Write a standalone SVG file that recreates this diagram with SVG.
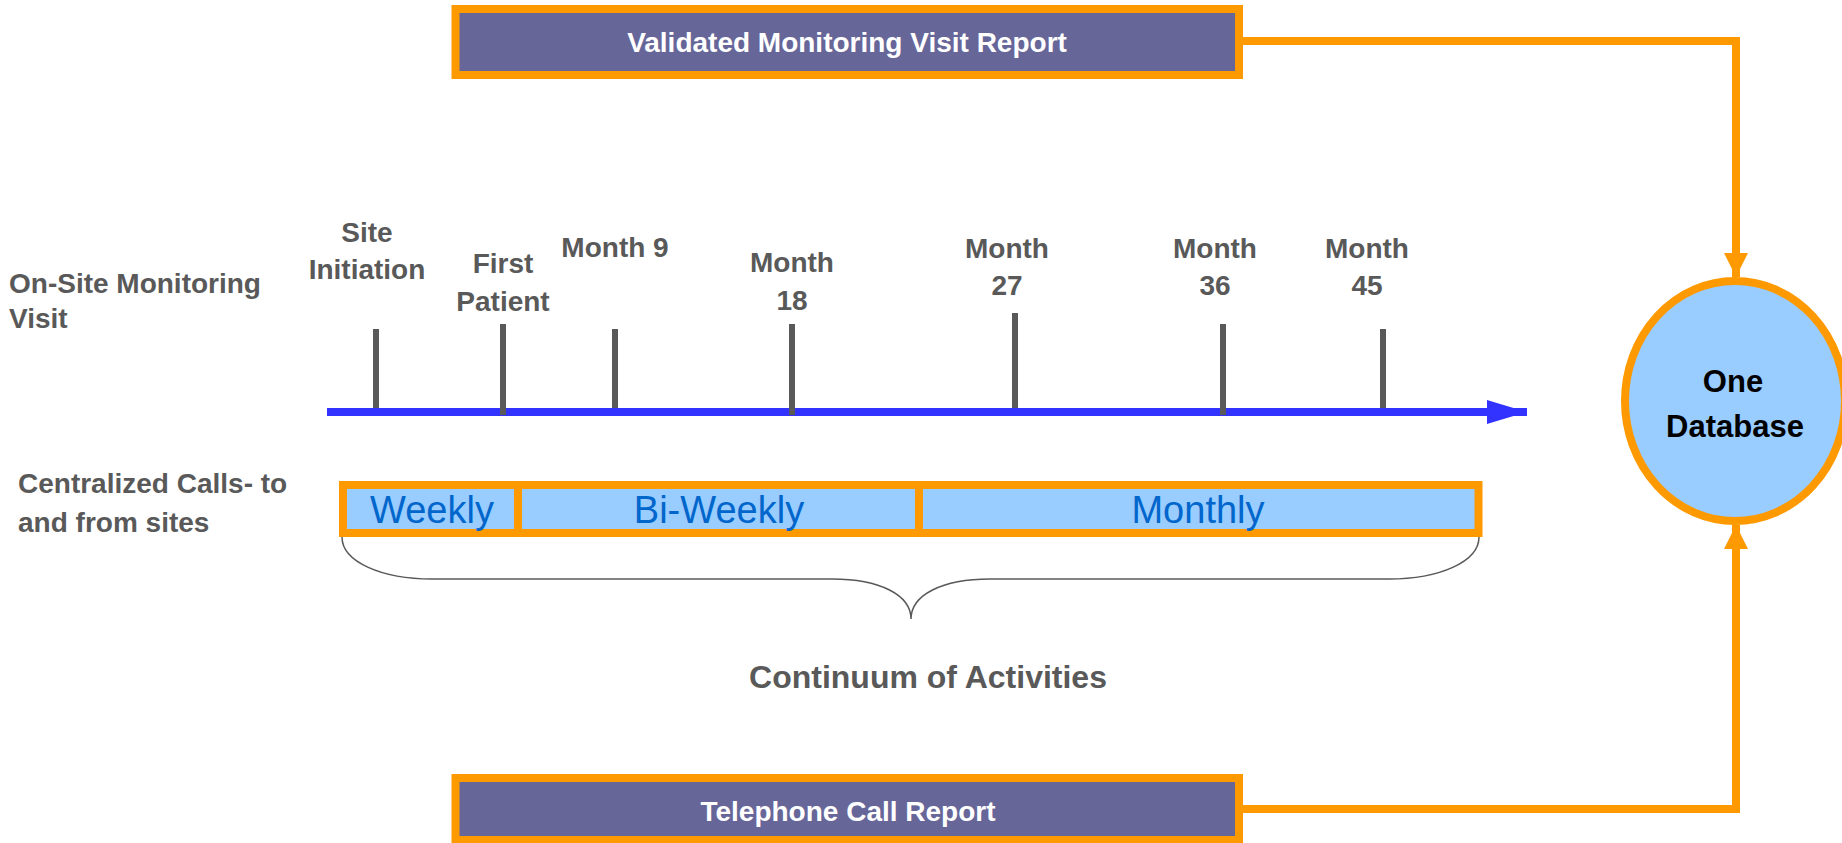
<svg xmlns="http://www.w3.org/2000/svg" width="1842" height="843" viewBox="0 0 1842 843">
  <style>
    .label { font-family: "Liberation Sans", Arial, sans-serif; font-weight: bold; font-size: 28px; fill: #595959; }
    .mid { text-anchor: middle; }
    .report-box { fill: #666699; stroke: #FF9900; stroke-width: 8; }
    .report-text { font-family: "Liberation Sans", Arial, sans-serif; font-weight: bold; font-size: 28px; fill: #FFFFFF; text-anchor: middle; }
    .freq-box { fill: #99CCFF; stroke: #FF9900; stroke-width: 8; }
    .freq-text { font-family: "Liberation Sans", Arial, sans-serif; font-size: 38px; fill: #0066CC; text-anchor: middle; }
    .tick { stroke: #595959; stroke-width: 6; }
    .feed { fill: none; stroke: #FF9900; stroke-width: 8; }
  </style>
  <defs>
    <marker id="orangeHead" markerUnits="userSpaceOnUse" markerWidth="24" markerHeight="24" viewBox="0 0 24 24" refX="24" refY="12" orient="auto">
      <path d="M0,0 L24,12 L0,24 Z" fill="#FF9900"/>
    </marker>
    <marker id="blueHead" markerUnits="userSpaceOnUse" markerWidth="40" markerHeight="24" viewBox="0 0 40 24" refX="40" refY="12" orient="auto">
      <path d="M0,0 L40,12 L0,24 Z" fill="#3333FF"/>
    </marker>
  </defs>

  <rect width="1842" height="843" fill="#FFFFFF"/>

  <!-- connectors feeding the database -->
  <g id="connectors">
    <path class="feed" d="M1243,41 L1736,41 L1736,277" marker-end="url(#orangeHead)"/>
    <path class="feed" d="M1243,809 L1736,809 L1736,525" marker-end="url(#orangeHead)"/>
  </g>

  <g id="validated-report">
    <rect class="report-box" x="455.5" y="9" width="783.5" height="66"/>
    <text class="report-text" x="847" y="52">Validated Monitoring Visit Report</text>
  </g>

  <g id="telephone-report">
    <rect class="report-box" x="455.5" y="778" width="783.5" height="62"/>
    <text class="report-text" x="848" y="821">Telephone Call Report</text>
  </g>

  <g id="database">
    <ellipse cx="1735" cy="401" rx="110" ry="120" fill="#99CCFF" stroke="#FF9900" stroke-width="8"/>
    <text class="label mid" x="1733" y="392" style="fill:#000000;font-size:31px">One</text>
    <text class="label mid" x="1735" y="437" style="fill:#000000;font-size:31px">Database</text>
  </g>

  <!-- row labels -->
  <g id="row-onsite">
    <text class="label" x="9" y="293">On-Site Monitoring</text>
    <text class="label" x="9" y="328">Visit</text>
  </g>
  <g id="row-calls">
    <text class="label" x="18" y="493">Centralized Calls- to</text>
    <text class="label" x="18" y="532">and from sites</text>
  </g>

  <!-- timeline with visit ticks -->
  <g id="timeline">
    <line x1="327" y1="412" x2="1527" y2="412" stroke="#3333FF" stroke-width="8" marker-end="url(#blueHead)"/>
    <line class="tick" x1="376" y1="329" x2="376" y2="408"/>
    <line class="tick" x1="503" y1="324" x2="503" y2="415"/>
    <line class="tick" x1="615" y1="329" x2="615" y2="408"/>
    <line class="tick" x1="792" y1="324" x2="792" y2="415"/>
    <line class="tick" x1="1015" y1="313" x2="1015" y2="408"/>
    <line class="tick" x1="1223" y1="324" x2="1223" y2="415"/>
    <line class="tick" x1="1383" y1="329" x2="1383" y2="408"/>
  </g>

  <g id="visit-site-initiation">
    <text class="label mid" x="367" y="242">Site</text>
    <text class="label mid" x="367" y="279">Initiation</text>
  </g>
  <g id="visit-first-patient">
    <text class="label mid" x="503" y="273">First</text>
    <text class="label mid" x="503" y="311">Patient</text>
  </g>
  <g id="visit-month-9">
    <text class="label mid" x="615" y="257">Month 9</text>
  </g>
  <g id="visit-month-18">
    <text class="label mid" x="792" y="272">Month</text>
    <text class="label mid" x="792" y="310">18</text>
  </g>
  <g id="visit-month-27">
    <text class="label mid" x="1007" y="258">Month</text>
    <text class="label mid" x="1007" y="295">27</text>
  </g>
  <g id="visit-month-36">
    <text class="label mid" x="1215" y="258">Month</text>
    <text class="label mid" x="1215" y="295">36</text>
  </g>
  <g id="visit-month-45">
    <text class="label mid" x="1367" y="258">Month</text>
    <text class="label mid" x="1367" y="295">45</text>
  </g>

  <!-- call frequency bar -->
  <g id="freq-weekly">
    <rect class="freq-box" x="343" y="485" width="175" height="48"/>
    <text class="freq-text" x="432" y="523">Weekly</text>
  </g>
  <g id="freq-biweekly">
    <rect class="freq-box" x="518" y="485" width="401" height="48"/>
    <text class="freq-text" x="719" y="523">Bi-Weekly</text>
  </g>
  <g id="freq-monthly">
    <rect class="freq-box" x="919" y="485" width="559.5" height="48"/>
    <text class="freq-text" x="1198" y="523">Monthly</text>
  </g>

  <g id="continuum">
    <path d="M342,537 C342,562 382,579 432,579 L832,579 C880,579 911,595 911,619 C911,595 942,579 990,579 L1389,579 C1439,579 1479,562 1479,537" fill="none" stroke="#595959" stroke-width="1.5"/>
    <text class="label mid" x="928" y="688" style="font-size:32px">Continuum of Activities</text>
  </g>
</svg>
